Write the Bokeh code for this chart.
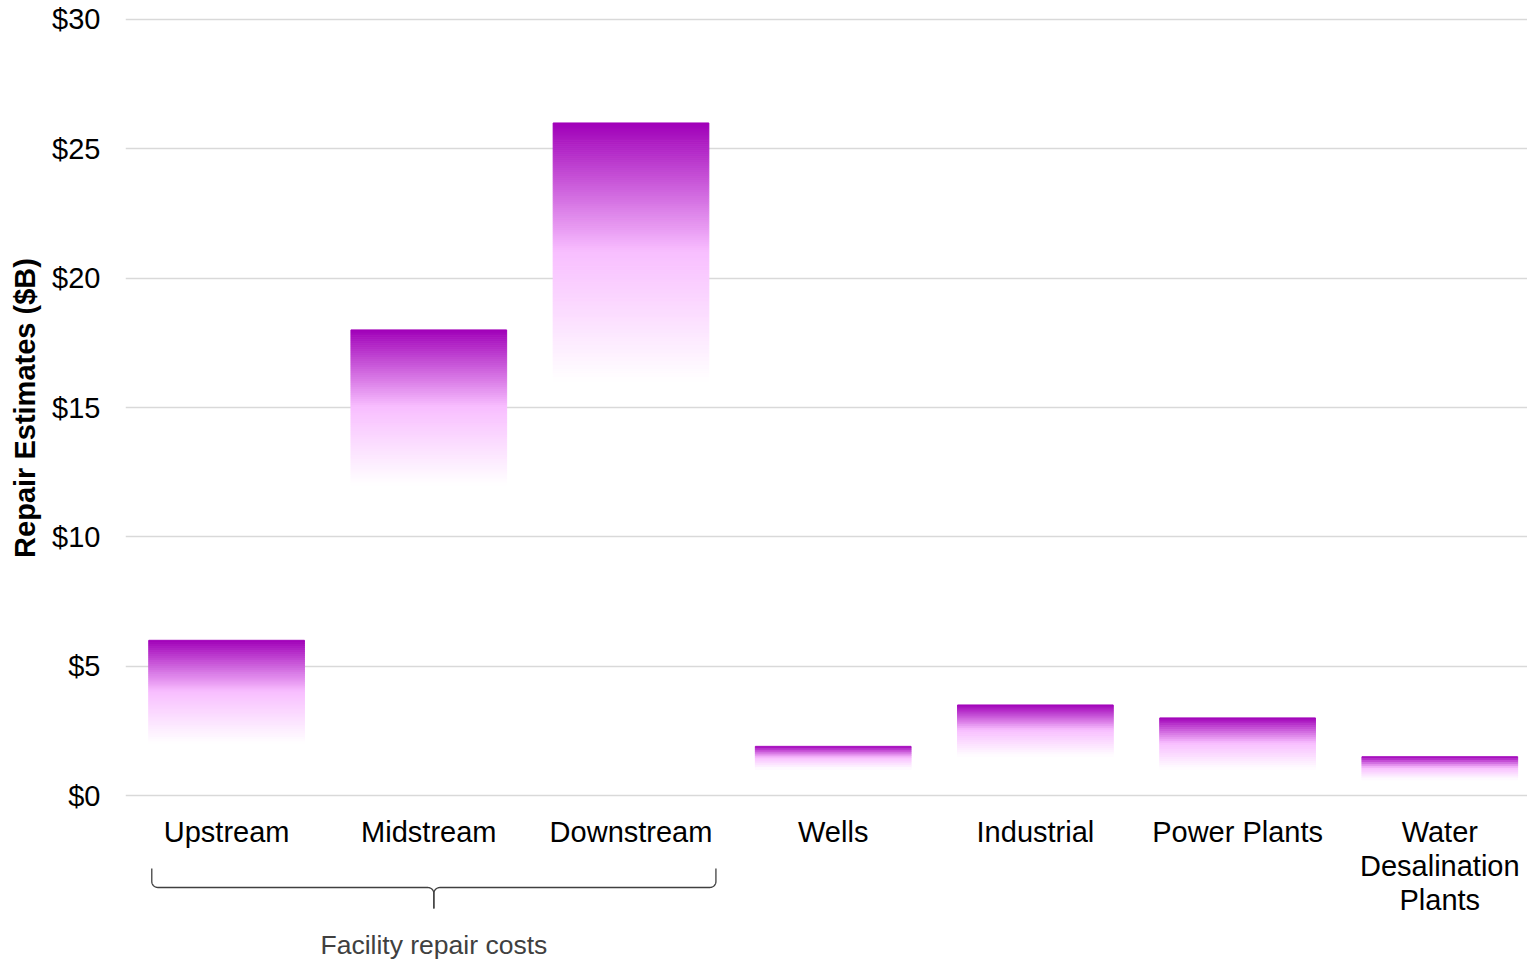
import numpy as np
from bokeh.plotting import figure
from bokeh.layouts import column
from bokeh.models import Range1d, FixedTicker, NumeralTickFormatter, ColumnDataSource
from bokeh.embed import file_html
from bokeh.resources import INLINE
from bokeh.core.properties import value

# ---------------- data ----------------
categories = ["Upstream", "Midstream", "Downstream", "Wells", "Industrial",
              "Power Plants", "Water\nDesalination\nPlants"]
high_estimates = [6.0, 18.0, 26.0, 1.9, 3.5, 3.0, 1.5]
low_estimates = [2.0, 12.0, 16.0, 1.0, 1.5, 1.0, 0.6]
y_ticks = [0, 5, 10, 15, 20, 25, 30]
group_label = "Facility repair costs"
group_members = [0, 1, 2]
y_title = "Repair Estimates ($B)"

# ---------------- layout ----------------
W, H = 1527, 960
TOP_H = 815           # height of the chart panel
LEFT = 125
PX_X = 202.2          # pixels per category
PX_Y = 25.87          # pixels per $B
ZERO_PX = 795         # pixel row of $0
TOP_PX = 19           # pixel row of $30
x_end = (W - LEFT) / PX_X
y_end = max(y_ticks) + TOP_PX / PX_Y
y_start = -(TOP_H - ZERO_PX) / PX_Y

FONT = "Liberation Sans"

p = figure(width=W, height=TOP_H, x_range=Range1d(0, x_end), y_range=Range1d(y_start, y_end),
           output_backend="svg", toolbar_location=None, x_axis_location=None,
           min_border_left=LEFT, min_border_right=0, min_border_top=0, min_border_bottom=0,
           outline_line_color=None, background_fill_color="white", border_fill_color="white")

p.xgrid.grid_line_color = None
p.yaxis.ticker = FixedTicker(ticks=y_ticks)
p.yaxis.formatter = NumeralTickFormatter(format="$0")
p.yaxis.axis_line_color = None
p.yaxis.major_tick_line_color = None
p.yaxis.minor_tick_line_color = None
p.yaxis.major_tick_out = 0
p.yaxis.major_tick_in = 0
p.yaxis.major_label_standoff = 25
p.yaxis.major_label_text_font = FONT
p.yaxis.major_label_text_font_size = "29px"
p.yaxis.major_label_text_color = "#000000"
p.yaxis.axis_label = y_title
p.yaxis.axis_label_standoff = 8
p.yaxis.axis_label_text_font = FONT
p.yaxis.axis_label_text_font_size = "29px"
p.yaxis.axis_label_text_font_style = "bold"
p.yaxis.axis_label_text_color = "#000000"
p.ygrid.grid_line_color = "#D9D9D9"
p.ygrid.grid_line_width = 1.5

# ---------------- gradient bars (stacked thin slices) ----------------
bar_width = 0.77
stops = [(0.0, (160, 0, 184)), (0.5, (248, 190, 255)), (1.0, (255, 255, 255))]


def grad_color(t):
    for (t0, c0), (t1, c1) in zip(stops[:-1], stops[1:]):
        if t <= t1:
            f = (t - t0) / (t1 - t0)
            c = [int(round(a + (b - a) * f)) for a, b in zip(c0, c1)]
            return "#%02x%02x%02x" % tuple(c)
    return "#ffffff"


left, right, top, bottom, color = [], [], [], [], []
for i, (lo, hi) in enumerate(zip(low_estimates, high_estimates)):
    xc = i + 0.5
    span = hi - lo
    n = max(10, int(np.ceil(span * PX_Y / 2.0)))
    for k in range(n):
        t0, t1 = k / n, (k + 1) / n
        left.append(xc - bar_width / 2)
        right.append(xc + bar_width / 2)
        top.append(hi - t0 * span)
        bottom.append(hi - t1 * span)
        color.append(grad_color((t0 + t1) / 2))

src = ColumnDataSource(dict(left=left, right=right, top=top, bottom=bottom, color=color))
p.quad(left="left", right="right", top="top", bottom="bottom", fill_color="color",
       line_color="color", line_width=1, source=src)

# ---------------- lower panel: category labels and brace ----------------
p2 = figure(width=W, height=H - TOP_H, x_range=p.x_range, y_range=Range1d(H, TOP_H),
            output_backend="svg", toolbar_location=None, x_axis_location=None,
            y_axis_location=None, min_border_left=LEFT, min_border_right=0,
            min_border_top=0, min_border_bottom=0, outline_line_color=None,
            background_fill_color="white", border_fill_color="white")
p2.grid.grid_line_color = None

lab_src = ColumnDataSource(dict(x=[i + 0.5 for i in range(len(categories))],
                                y=[TOP_H + 0.5] * len(categories), text=categories))
p2.text(x="x", y="y", text="text", source=lab_src, text_align="center", text_baseline="top",
        text_font=value(FONT), text_font_size="29px", text_color="#000000",
        text_line_height=1.06)

bx0 = group_members[0] + 0.13
bx1 = group_members[-1] + 1 - 0.08
bxm = (bx0 + bx1) / 2
yt, ym, ytip = 868, 887, 908
r_px = 6
rx = r_px / PX_X
th = np.linspace(0, np.pi / 2, 12)

lx = ([bx0, bx0] + list(bx0 + rx - rx * np.cos(th)) + [bxm - rx]
      + list(bxm - rx + rx * np.sin(th)) + [bxm])
ly = ([yt, ym - r_px] + list(ym - r_px + r_px * np.sin(th)) + [ym]
      + list(ym + r_px - r_px * np.cos(th)) + [ytip])
rxs = [2 * bxm - v for v in lx]
p2.multi_line(xs=[lx, rxs], ys=[ly, ly], line_color="#404040", line_width=1.3)

p2.text(x=[bxm], y=[944], text=[group_label], text_align="center", text_baseline="middle",
        text_font=value(FONT), text_font_size="26.5px", text_color="#404040")

layout = column(p, p2, spacing=0)
open("out.html", "w").write(file_html(layout, INLINE))
